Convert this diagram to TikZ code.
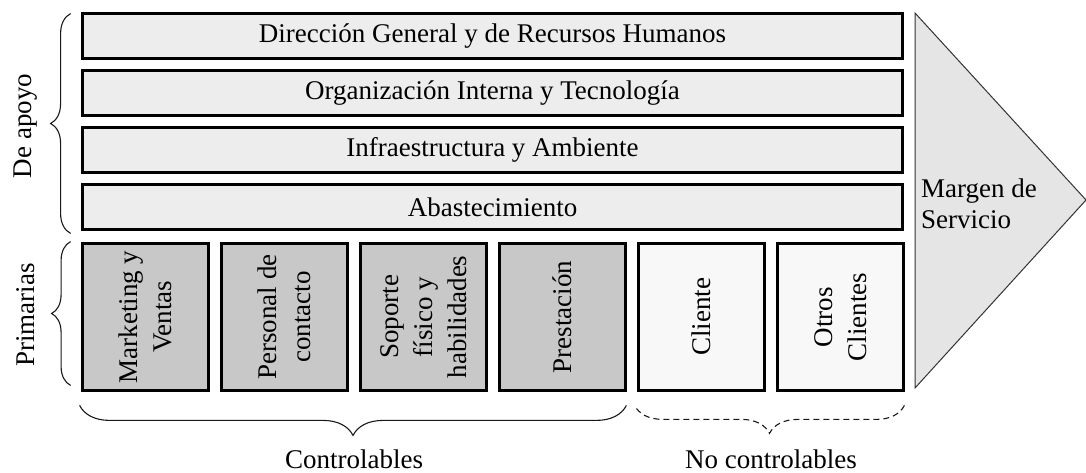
\documentclass[tikz,border=0pt]{standalone}
\usepackage{fontspec}
\setmainfont{Liberation Serif}
\usetikzlibrary{decorations.pathreplacing,calc}
\definecolor{supfill}{HTML}{EDEDED}
\definecolor{primfill}{HTML}{C8C8C8}
\definecolor{clifill}{HTML}{F8F8F8}
\definecolor{trifill}{HTML}{E5E5E5}
\definecolor{triline}{HTML}{333333}
\tikzset{
  supbox/.style={draw=black, line width=2.8pt, fill=supfill, minimum width=820.2pt, minimum height=45.2pt, inner sep=0pt},
  primbox/.style={draw=black, line width=2.8pt, fill=primfill, rotate=90, align=center, minimum width=147.2pt, minimum height=126.2pt, inner sep=0pt},
  clibox/.style={primbox, fill=clifill},
  bracestyle/.style={decorate, line width=1.1pt, draw=black!90},
  sidelabel/.style={rotate=90, inner sep=0pt}
}
\begin{document}
\begin{tikzpicture}[x=1pt, y=-1pt, font=\fontsize{27}{34}\selectfont]
\useasboundingbox (0,0) rectangle (1086,473);
% support activities
\node[supbox] (r1) at (492.5,36) {Dirección General y de Recursos Humanos};
\node[supbox] (r2) at (492.5,93) {Organización Interna y Tecnología};
\node[supbox] (r3) at (492.5,150) {Infraestructura y Ambiente};
\node[supbox] (r4) at (492.5,207) {Abastecimiento};
% primary activities
\node[primbox] (b1) at (145.5,317) {Marketing y\\Ventas};
\node[primbox] (b2) at (284.5,317) {Personal de\\contacto};
\node[primbox] (b3) at (423.5,317) {Soporte\\físico y\\habilidades};
\node[primbox] (b4) at (562.5,317) {Prestación};
\node[clibox] (b5) at (701.5,317) {Cliente};
\node[clibox] (b6) at (840.5,317) {Otros\\Clientes};
% margin triangle
\draw[triline, line width=1pt, fill=trifill] (915,13) -- (1086,200) -- (915,388) -- cycle;
\node[anchor=north west, align=left, inner sep=0pt, font=\fontsize{27}{31}\selectfont] (mg) at (921,178.5) {Margen de\\Servicio};
% left labels and braces
\node[sidelabel] (ap) at (26,126) {De apoyo};
\node[sidelabel] (pr) at (26,315) {Primarias};
\draw[bracestyle, decoration={brace, amplitude=20pt}]
  ($(r4.south west)+(-10.4,2.4)$) -- ($(r1.north west)+(-10.4,1.6)$);
\draw[bracestyle, decoration={brace, amplitude=19pt}]
  ($(b1.north west)+(-10.4,-6.6)$) -- ($(b1.north east)+(-10.4,-0.4)$);
% bottom braces
\draw[bracestyle, decoration={brace, amplitude=30pt}]
  ($(b4.south west)+(-0.6,13.4)$) -- ($(b1.north west)+(-1.4,13.4)$);
\draw[bracestyle, dash pattern=on 6pt off 4pt, decoration={brace, amplitude=28pt}]
  ($(b6.south west)+(-0.6,13.4)$) -- ($(b5.north west)+(-2.4,13.4)$);
\node[anchor=base, inner sep=0pt] (ctl) at (354,468) {Controlables};
\node[anchor=base, inner sep=0pt] (nctl) at (771,468) {No controlables};
\end{tikzpicture}
\end{document}
